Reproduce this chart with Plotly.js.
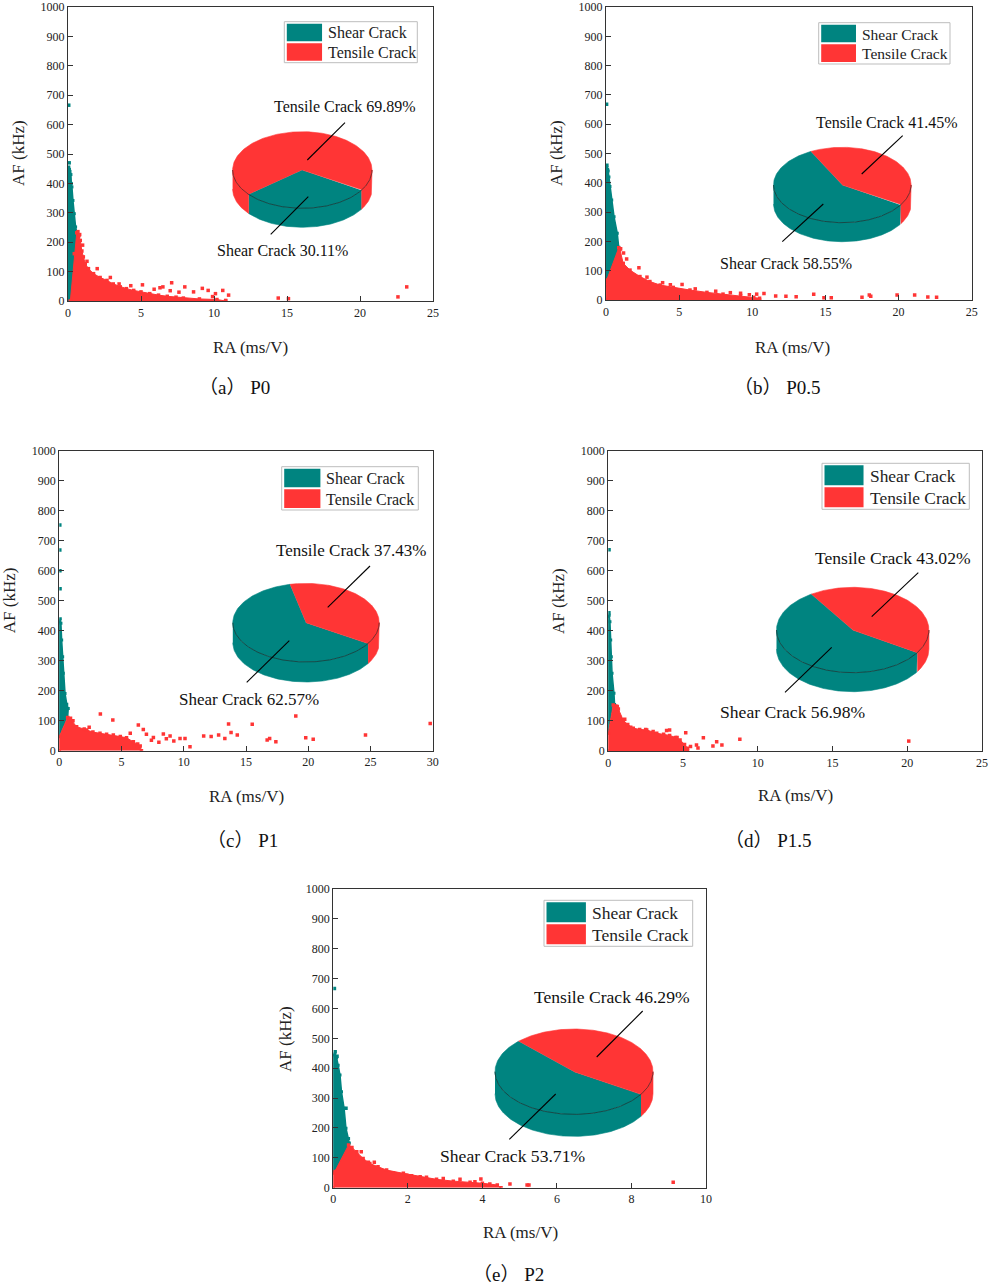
<!DOCTYPE html>
<html><head><meta charset="utf-8">
<script src="https://cdn.plot.ly/plotly-3.0.1.min.js"></script>
<style>html,body{margin:0;padding:0;background:#fff}</style>
</head><body><div id="chart" style="width:989px;height:1287px"></div>
<script>
// ---------------- DATA ----------------
const panelLabels = ['（a） P0', '（b） P0.5', '（c） P1', '（d） P1.5', '（e） P2'];
const seriesNames = ['Shear Crack', 'Tensile Crack'];
const xTitle = 'RA (ms/V)';
const yTitle = 'AF (kHz)';
const shearPct = [30.11, 58.55, 62.57, 56.98, 53.71];
const tensilePct = [69.89, 41.45, 37.43, 43.02, 46.29];
const xMax = [25, 25, 30, 25, 10];
const xDtick = [5, 5, 5, 5, 2];

// (a) P0 — dense-cloud envelopes and isolated points
const a_shearX = [0, 0, 0.1, 0.2, 0.23, 0.27, 0.34, 0.43, 0.52, 0.62, 0.16, 0.05];
const a_shearY = [0, 444, 448, 430, 400, 388, 342, 297, 252, 229, 0, 0];
const a_shearPtX = [0.05, 0.04, 0.12, 0.08];
const a_shearPtY = [666, 455, 440, 470];
const a_tensX = [0.16, 0.43, 0.6, 0.68, 0.75, 0.84, 0.95, 1.05, 1.18, 1.4, 1.75, 2.2, 2.67, 3.1, 3.58, 4.0, 4.5, 5.0, 5.6, 6.2, 6.8, 7.4, 7.9, 9.0, 10.2, 10.8, 10.8];
const a_tensY = [0, 161, 232, 236, 222, 206, 170, 150, 127, 110, 93, 80, 70, 58, 48, 42, 36, 31, 25, 20, 16, 13, 10, 7, 5, 2, 0];
const a_tensPtX = [7.1, 6.5, 8.0, 9.2, 9.6, 10.1, 10.6, 11.0, 8.6, 14.4, 15.1, 22.6, 23.2, 5.1, 5.9, 6.3, 7.6, 9.9, 1.3, 2.0, 2.9, 3.5, 0.8, 1.0, 4.3, 7.0];
const a_tensPtY = [62, 48, 48, 43, 36, 25, 36, 20, 31, 10, 8, 14, 48, 55, 40, 45, 30, 15, 135, 110, 80, 58, 226, 190, 52, 35];

// (b) P0.5
const b_shearX = [0, 0, 0.05, 0.15, 0.2, 0.27, 0.39, 0.55, 0.77, 0.87, 0.05];
const b_shearY = [60, 449, 452, 440, 420, 387, 341, 284, 228, 180, 66];
const b_shearPtX = [0.04, 0.06, 0.1];
const b_shearPtY = [668, 460, 445];
const b_tensX = [0, 0, 0.05, 0.87, 0.95, 1.18, 1.64, 2.32, 3.0, 3.7, 4.6, 5.74, 6.9, 8.0, 9.2, 10.1, 10.5, 10.5];
const b_tensY = [0, 62, 68, 178, 172, 125, 102, 80, 63, 51, 43, 34, 26, 20, 15, 9, 6, 0];
const b_tensPtX = [1.41, 2.25, 3.87, 5.2, 1.2, 2.8, 4.4, 6.1, 7.5, 9.2, 10.3, 10.8, 11.6, 12.3, 13.0, 14.2, 14.9, 15.4, 17.5, 18.0, 18.1, 19.9, 21.1, 22.0, 22.6, 8.5, 9.8, 1.0];
const b_tensPtY = [140, 110, 59, 53, 160, 78, 52, 38, 30, 23, 20, 22, 14, 13, 11, 20, 8, 8, 9, 17, 13, 17, 17, 10, 9, 25, 18, 175];

// (c) P1
const c_shearX = [0, 0, 0.08, 0.13, 0.19, 0.27, 0.32, 0.46, 0.6, 0.72, 0.67];
const c_shearY = [47, 430, 440, 425, 369, 313, 258, 191, 155, 141, 111];
const c_shearPtX = [0.04, 0.04, 0.06, 0.05];
const c_shearPtY = [752, 669, 540, 600];
const c_tensX = [0, 0, 0.67, 0.8, 1.0, 1.39, 2.2, 2.7, 3.27, 3.8, 4.34, 4.9, 5.4, 5.95, 6.3, 6.5, 6.6];
const c_tensY = [0, 47, 111, 105, 100, 80, 69, 62, 58, 55, 52, 47, 43, 30, 22, 16, 0];
const c_tensPtX = [3.3, 4.3, 6.35, 6.75, 5.7, 7.56, 8.36, 8.9, 9.7, 10.1, 10.5, 11.6, 12.2, 12.8, 13.3, 13.6, 13.8, 14.3, 15.5, 16.7, 16.9, 17.4, 19.0, 19.8, 20.4, 24.6, 29.8, 7.0, 7.4, 8.0, 8.6, 9.2, 6.0, 2.4, 2.0, 1.1, 0.9];
const c_tensPtY = [122, 102, 86, 71, 58, 44, 56, 49, 41, 41, 13, 49, 47, 52, 41, 89, 61, 52, 88, 36, 41, 30, 116, 43, 38, 52, 91, 55, 35, 28, 40, 32, 15, 78, 72, 100, 108];

// (d) P1.5
const d_shearX = [0, 0, 0.06, 0.11, 0.16, 0.2, 0.25, 0.38, 0.42, 0.33];
const d_shearY = [59, 448, 452, 430, 370, 314, 259, 192, 155, 153];
const d_shearPtX = [0.05, 0.04];
const d_shearPtY = [670, 460];
const d_tensX = [0, 0, 0.33, 0.5, 0.67, 1.0, 1.3, 1.67, 2.1, 2.57, 3.24, 3.7, 4.1, 4.5, 4.8, 5.1, 5.3, 5.3];
const d_tensY = [0, 59, 153, 150, 140, 103, 88, 76, 72, 70, 59, 56, 52, 45, 37, 22, 9, 0];
const d_tensPtX = [4.1, 5.18, 6.36, 7.25, 7.6, 7.0, 8.8, 5.9, 20.1, 0.6, 1.1, 1.5, 2.5, 3.0, 3.9, 4.6, 5.5, 6.0];
const d_tensPtY = [70, 61, 44, 31, 20, 17, 39, 20, 33, 148, 106, 79, 72, 65, 68, 45, 15, 10];

// (e) P2
const e_shearX = [0, 0, 0.04, 0.09, 0.13, 0.18, 0.22, 0.29, 0.34, 0.41, 0.43, 0.41, 0.04];
const e_shearY = [50, 444, 448, 435, 410, 377, 321, 266, 199, 165, 150, 143, 54];
const e_shearPtX = [0.03, 0.34, 0.05, 0.1];
const e_shearPtY = [667, 266, 455, 440];
const e_tensX = [0, 0, 0.04, 0.41, 0.5, 0.63, 0.8, 0.98, 1.2, 1.43, 1.88, 2.33, 2.77, 3.22, 3.67, 4.0, 4.4, 4.5];
const e_tensY = [0, 48, 54, 143, 135, 120, 98, 81, 70, 59, 48, 37, 28, 22, 18, 15, 9, 0];
const e_tensPtX = [0.64, 0.94, 1.97, 2.1, 3.96, 2.95, 4.74, 5.2, 5.25, 9.12, 0.75, 1.1, 1.6, 2.5, 3.4, 3.8, 4.2];
const e_tensPtY = [109, 85, 42, 40, 29, 31, 12, 9, 9, 18, 120, 85, 50, 35, 28, 20, 12];

const shearX = [a_shearX, b_shearX, c_shearX, d_shearX, e_shearX];
const shearY = [a_shearY, b_shearY, c_shearY, d_shearY, e_shearY];
const shearPtX = [a_shearPtX, b_shearPtX, c_shearPtX, d_shearPtX, e_shearPtX];
const shearPtY = [a_shearPtY, b_shearPtY, c_shearPtY, d_shearPtY, e_shearPtY];
const tensX = [a_tensX, b_tensX, c_tensX, d_tensX, e_tensX];
const tensY = [a_tensY, b_tensY, c_tensY, d_tensY, e_tensY];
const tensPtX = [a_tensPtX, b_tensPtX, c_tensPtX, d_tensPtX, e_tensPtX];
const tensPtY = [a_tensPtY, b_tensPtY, c_tensPtY, d_tensPtY, e_tensPtY];

// ---------------- LAYOUT (pixel geometry) ----------------
const W = 989, H = 1287;
const TEAL = '#008480', RED = '#ff3535';
const FONT = 'Liberation Serif, Times New Roman, serif';
const CAPFONT = 'Liberation Serif, Noto Sans CJK SC, serif';
const P = [
  {px:[68,433], py:[7,301], xt:[250,347.5], yt:[18,153], cap:[234,387],
   pie:{cx:302.3,cy:170,rx:69.7,ry:38.3,d:19}, tl:[307.3,160,345,122.7], tlab:[345,106.7], sl:[308.3,196.7,270.7,234.3], slab:[282.3,250], pfs:16,
   leg:[284.3,21.7,417.3,62.7], lfs:16},
  {px:[606,971.7], py:[7,300], xt:[792.7,347.5], yt:[556,153], cap:[777,387],
   pie:{cx:842.3,cy:185,rx:68.8,ry:37.7,d:19}, tl:[861.7,174,902.7,135.7], tlab:[886.7,122.3], sl:[823.3,204,782.3,241.7], slab:[785.7,263.3], pfs:16,
   leg:[818.7,22.7,950,64], lfs:15.5},
  {px:[59.3,432.7], py:[450.7,750.7], xt:[246,796.7], yt:[9.5,600.7], cap:[242,840.5],
   pie:{cx:306,cy:622.7,rx:73.2,ry:39.3,d:20}, tl:[327.7,607.3,370,566], tlab:[350.7,550], sl:[289.3,640.7,246.7,682.3], slab:[249.3,699.3], pfs:17,
   leg:[281.7,466.7,418.3,510], lfs:16},
  {px:[608.3,982], py:[450.7,751], xt:[795.5,795.8], yt:[558.3,600.7], cap:[768,840.5],
   pie:{cx:852.7,cy:630,rx:76.2,ry:42.7,d:19}, tl:[871.7,616.7,918.3,572.7], tlab:[893.3,558.3], sl:[831.7,647.3,785,692.3], slab:[792.7,711.7], pfs:17.6,
   leg:[822,463.3,969.3,509.3], lfs:17.4},
  {px:[333.3,706], py:[889,1187.7], xt:[520,1232.8], yt:[285,1039], cap:[508,1274.5],
   pie:{cx:574,cy:1071.7,rx:79,ry:42.7,d:22}, tl:[596.7,1057,642.7,1011], tlab:[612.3,997.3], sl:[555.7,1094,509.3,1139.3], slab:[512.3,1156], pfs:17.6,
   leg:[544,900.3,692.7,946.3], lfs:17.5}
];

const traces = [];
const layout = {
  width: W, height: H, margin: {l:0, r:0, t:0, b:0},
  paper_bgcolor: '#fff', plot_bgcolor: 'rgba(0,0,0,0)', showlegend: false,
  shapes: [], annotations: []
};

P.forEach((p, i) => {
  const n = i === 0 ? '' : String(i + 1);
  const xa = 'x' + n, ya = 'y' + n;
  layout['xaxis' + n] = {
    domain: [p.px[0] / W, p.px[1] / W], anchor: ya, range: [0, xMax[i]], dtick: xDtick[i], tick0: 0,
    ticks: 'inside', ticklen: 5, tickwidth: 1, tickcolor: '#333', showline: true, linecolor: '#333', linewidth: 1.2,
    mirror: true, showgrid: false, zeroline: false, tickfont: {family: FONT, size: 12, color: '#222'}, fixedrange: true
  };
  layout['yaxis' + n] = {
    domain: [1 - p.py[1] / H, 1 - p.py[0] / H], anchor: xa, range: [0, 1000], dtick: 100, tick0: 0,
    ticks: 'inside', ticklen: 5, tickwidth: 1, tickcolor: '#333', showline: true, linecolor: '#333', linewidth: 1.2,
    mirror: true, showgrid: false, zeroline: false, tickfont: {family: FONT, size: 12, color: '#222'}, fixedrange: true
  };
  // dense clouds + isolated points
  traces.push({x: shearX[i], y: shearY[i], xaxis: xa, yaxis: ya, mode: 'lines+markers', fill: 'toself', fillcolor: TEAL,
    line: {color: TEAL, width: 1.5}, marker: {color: TEAL, size: 3, symbol: 'square'}, name: seriesNames[0], hoverinfo: 'skip'});
  traces.push({x: shearPtX[i], y: shearPtY[i], xaxis: xa, yaxis: ya, mode: 'markers',
    marker: {color: TEAL, size: 3.5, symbol: 'square'}, name: seriesNames[0]});
  traces.push({x: tensX[i], y: tensY[i], xaxis: xa, yaxis: ya, mode: 'lines+markers', fill: 'toself', fillcolor: RED,
    line: {color: RED, width: 1}, marker: {color: RED, size: 3.5, symbol: 'square'}, name: seriesNames[1], hoverinfo: 'skip'});
  traces.push({x: tensPtX[i], y: tensPtY[i], xaxis: xa, yaxis: ya, mode: 'markers',
    marker: {color: RED, size: 3.5, symbol: 'square'}, name: seriesNames[1]});

  // axis titles + caption
  layout.annotations.push({xref: 'x6', yref: 'y6', x: p.xt[0], y: p.xt[1], text: xTitle, showarrow: false,
    font: {family: FONT, size: 17, color: '#222'}, xanchor: 'center', yanchor: 'middle'});
  layout.annotations.push({xref: 'x6', yref: 'y6', x: p.yt[0], y: p.yt[1], text: yTitle, showarrow: false, textangle: -90,
    font: {family: FONT, size: 17, color: '#222'}, xanchor: 'center', yanchor: 'middle'});
  layout.annotations.push({xref: 'x6', yref: 'y6', x: p.cap[0], y: p.cap[1], text: panelLabels[i], showarrow: false,
    font: {family: CAPFONT, size: 19, color: '#111'}, xanchor: 'center', yanchor: 'middle'});

  // legend box
  const [lx0, ly0, lx1, ly1] = p.leg;
  const bw = lx1 - lx0, bh = ly1 - ly0;
  const sw = bw * 0.265, sh = (bh - 6) / 2;
  layout.shapes.push({type: 'rect', xref: 'x6', yref: 'y6', x0: lx0, y0: ly0, x1: lx1, y1: ly1,
    line: {color: '#bdbdbd', width: 1}, fillcolor: '#fff', layer: 'above'});
  [TEAL, RED].forEach((c, k) => {
    const y0 = ly0 + 2 + k * (sh + 2);
    layout.shapes.push({type: 'rect', xref: 'x6', yref: 'y6', x0: lx0 + 2.5, y0: y0, x1: lx0 + 2.5 + sw, y1: y0 + sh,
      line: {width: 0}, fillcolor: c, layer: 'above'});
    layout.annotations.push({xref: 'x6', yref: 'y6', x: lx0 + 2.5 + sw + 4, y: y0 + sh / 2 + 0.5, text: seriesNames[k], showarrow: false,
      font: {family: FONT, size: p.lfs, color: '#222'}, xanchor: 'left', yanchor: 'middle'});
  });

  // 3D pie (geometry from the percentages)
  const {cx, cy, rx, ry, d} = p.pie;
  const endA = -32, startA = endA - 3.6 * shearPct[i];
  const slices = [
    {t1: startA, t2: endA, color: TEAL},
    {t1: endA, t2: endA + 3.6 * tensilePct[i], color: RED}
  ];
  const pt = (t, dy) => [cx + rx * Math.cos(t * Math.PI / 180), cy - ry * Math.sin(t * Math.PI / 180) + dy];
  const arc = (t1, t2, dy) => {
    const xs = [], ys = [];
    const nS = Math.max(2, Math.ceil(Math.abs(t2 - t1)));
    for (let k = 0; k <= nS; k++) { const q = pt(t1 + (t2 - t1) * k / nS, dy); xs.push(q[0]); ys.push(q[1]); }
    return [xs, ys];
  };
  const fronts = [[-540, -360], [-180, 0], [180, 360]];
  slices.forEach(s => {
    fronts.forEach(f => {
      const lo = Math.max(s.t1, f[0]), hi = Math.min(s.t2, f[1]);
      if (hi > lo) {
        const [ax, ay] = arc(lo, hi, 0);
        const [bx, by] = arc(hi, lo, d);
        traces.push({x: ax.concat(bx), y: ay.concat(by), xaxis: 'x6', yaxis: 'y6', mode: 'lines', fill: 'toself',
          fillcolor: s.color, line: {color: s.color, width: 0.6}, hoverinfo: 'skip'});
      }
    });
  });
  slices.forEach(s => {
    const [ax, ay] = arc(s.t1, s.t2, 0);
    traces.push({x: [cx].concat(ax), y: [cy].concat(ay), xaxis: 'x6', yaxis: 'y6', mode: 'lines', fill: 'toself',
      fillcolor: s.color, line: {color: s.color, width: 0.6}, hoverinfo: 'skip'});
  });
  const [ex, ey] = arc(180, 360, 0);
  traces.push({x: ex, y: ey, xaxis: 'x6', yaxis: 'y6', mode: 'lines', line: {color: 'rgba(30,30,30,0.75)', width: 0.8}, hoverinfo: 'skip'});

  // leader lines + labels
  layout.shapes.push({type: 'line', xref: 'x6', yref: 'y6', x0: p.tl[0], y0: p.tl[1], x1: p.tl[2], y1: p.tl[3], line: {color: '#000', width: 1.1}});
  layout.shapes.push({type: 'line', xref: 'x6', yref: 'y6', x0: p.sl[0], y0: p.sl[1], x1: p.sl[2], y1: p.sl[3], line: {color: '#000', width: 1.1}});
  layout.annotations.push({xref: 'x6', yref: 'y6', x: p.tlab[0], y: p.tlab[1], text: seriesNames[1] + ' ' + tensilePct[i].toFixed(2) + '%',
    showarrow: false, font: {family: FONT, size: p.pfs, color: '#111'}, xanchor: 'center', yanchor: 'middle'});
  layout.annotations.push({xref: 'x6', yref: 'y6', x: p.slab[0], y: p.slab[1], text: seriesNames[0] + ' ' + shearPct[i].toFixed(2) + '%',
    showarrow: false, font: {family: FONT, size: p.pfs, color: '#111'}, xanchor: 'center', yanchor: 'middle'});
});

layout.xaxis6 = {domain: [0, 1], range: [0, W], visible: false, anchor: 'y6', fixedrange: true};
layout.yaxis6 = {domain: [0, 1], range: [H, 0], visible: false, anchor: 'x6', fixedrange: true};
traces.push({x: [0], y: [0], xaxis: 'x6', yaxis: 'y6', mode: 'markers', marker: {size: 0.1, color: 'rgba(0,0,0,0)'}, hoverinfo: 'skip'});

Plotly.newPlot('chart', traces, layout, {staticPlot: true, displayModeBar: false});
</script>
</body></html>
